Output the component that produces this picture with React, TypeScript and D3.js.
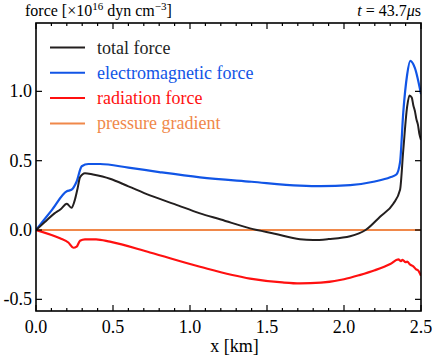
import React from "react";
import * as d3 from "d3";

const totalX = [0, 0.06, 0.12, 0.16, 0.2, 0.23, 0.253, 0.27, 0.286, 0.318, 0.37, 0.48, 0.6, 0.74, 0.9, 1.065, 1.2, 1.39, 1.55, 1.714, 1.8, 1.9, 2.04, 2.14, 2.234, 2.32, 2.364, 2.385, 2.41, 2.425, 2.44, 2.45, 2.46, 2.47, 2.48, 2.49, 2.5];
const totalY = [0, 0.06, 0.12, 0.15, 0.19, 0.16, 0.22, 0.30, 0.38, 0.41, 0.40, 0.37, 0.315, 0.25, 0.187, 0.12, 0.076, 0.012, -0.027, -0.067, -0.072, -0.065, -0.045, 0, 0.096, 0.19, 0.29, 0.577, 0.89, 0.97, 0.955, 0.9, 0.86, 0.8, 0.76, 0.69, 0.65];

const emX = [0, 0.1, 0.2, 0.23, 0.264, 0.297, 0.34, 0.416, 0.6, 0.8, 1.065, 1.4, 1.714, 1.85, 2.04, 2.2, 2.3, 2.34, 2.364, 2.385, 2.41, 2.43, 2.46, 2.5];
const emY = [0, 0.14, 0.28, 0.29, 0.35, 0.46, 0.476, 0.476, 0.45, 0.418, 0.38, 0.348, 0.32, 0.316, 0.324, 0.35, 0.38, 0.40, 0.49, 0.85, 1.12, 1.22, 1.17, 0.98];

const radX = [0, 0.156, 0.21, 0.243, 0.264, 0.286, 0.318, 0.39, 0.48, 0.74, 1.065, 1.39, 1.6, 1.714, 1.85, 2.0, 2.1, 2.2, 2.3, 2.353, 2.37, 2.38, 2.4, 2.41, 2.43, 2.45, 2.47, 2.48, 2.5];
const radY = [0, -0.06, -0.09, -0.128, -0.12, -0.077, -0.067, -0.067, -0.084, -0.162, -0.265, -0.35, -0.378, -0.385, -0.38, -0.355, -0.325, -0.29, -0.245, -0.212, -0.225, -0.215, -0.232, -0.228, -0.25, -0.262, -0.285, -0.29, -0.33];

const presX = [0, 2.5];
const presY = [0, 0];

const xTicks = [0, 0.5, 1.0, 1.5, 2.0, 2.5];
const yTicks = [-0.5, 0, 0.5, 1.0];
const legendLabels = ["total force", "electromagnetic force", "radiation force", "pressure gradient"];
const colors = ["#231f1f", "#1155e6", "#ff1010", "#f0884a"];

const FONT = "'Liberation Serif', serif";

export default function App() {
  const L = 36, R = 421, T = 23, B = 311;
  const x = d3.scaleLinear().domain([0, 2.5]).range([L, R]);
  const y = d3.scaleLinear().domain([-0.584, 1.493]).range([B, T]);
  const line = d3.line<[number, number]>().x(d => x(d[0])).y(d => y(d[1])).curve(d3.curveMonotoneX);
  const series = [
    [totalX, totalY],
    [emX, emY],
    [radX, radY],
    [presX, presY],
  ];
  const widths = [2, 2.2, 2.2, 1.8];
  const minor = d3.range(0, 26).map(k => k / 10);

  return (
    <div style={{ fontFamily: FONT }}>
      <svg width={436} height={358} style={{ position: "absolute", left: 0, top: 0, background: "#fff" }}>
        <style>{`.ser { font-family: 'Liberation Serif', serif !important; }`}</style>
        <defs>
          <clipPath id="plotclip">
            <rect x={L} y={T} width={R - L} height={B - T} />
          </clipPath>
        </defs>
        <g clipPath="url(#plotclip)">
          {[3, 2, 1, 0].map(i => {
            const [xs, ys] = series[i];
            const pts = xs.map((v, k) => [v, ys[k]] as [number, number]);
            return <path key={i} d={line(pts)!} fill="none" stroke={colors[i]} strokeWidth={widths[i]} strokeLinejoin="round" />;
          })}
        </g>
        <rect x={L} y={T} width={R - L} height={B - T} fill="none" stroke="#000" strokeWidth={1.6} />
        {minor.map((v, k) => {
          const len = k % 5 === 0 ? 6 : 3;
          return (
            <g key={"mt" + k}>
              <line x1={x(v)} x2={x(v)} y1={B} y2={B - len} stroke="#000" strokeWidth={1.2} />
              <line x1={x(v)} x2={x(v)} y1={T} y2={T + len} stroke="#000" strokeWidth={1.2} />
            </g>
          );
        })}
        <g className="ser" fontFamily="Liberation Serif">
          {yTicks.map(v => (
            <g key={"yt" + v}>
              <line x1={L} x2={L + 6} y1={y(v)} y2={y(v)} stroke="#000" strokeWidth={1.2} />
              <line x1={R} x2={R - 6} y1={y(v)} y2={y(v)} stroke="#000" strokeWidth={1.2} />
              <text className="ser" x={L - 4} y={y(v) + 6} textAnchor="end" fontSize={18}>{v.toFixed(1)}</text>
            </g>
          ))}
          {xTicks.map(v => (
            <text className="ser" key={"xl" + v} x={x(v)} y={B + 22} textAnchor="middle" fontSize={18}>{v.toFixed(1)}</text>
          ))}
          <text className="ser" x={(L + R) / 2 + 6} y={352} textAnchor="middle" fontSize={18}>x [km]</text>
          <text className="ser" x={25} y={16} fontSize={16}>
            <tspan>force [×10</tspan>
            <tspan fontSize={11} dy={-6}>16</tspan>
            <tspan dy={6}> dyn cm</tspan>
            <tspan fontSize={11} dy={-6}>−3</tspan>
            <tspan dy={6}>]</tspan>
          </text>
          <text className="ser" x={421} y={16} textAnchor="end" fontSize={16}>
            <tspan fontStyle="italic">t</tspan>
            <tspan> = 43.7</tspan>
            <tspan fontStyle="italic">μ</tspan>
            <tspan>s</tspan>
          </text>
          {legendLabels.map((lab, i) => {
            const ly = 47.5 + i * 25.3;
            return (
              <g key={"lg" + i}>
                <line x1={50} x2={85} y1={ly} y2={ly} stroke={colors[i]} strokeWidth={2} />
                <text className="ser" x={97} y={ly + 6} fill={colors[i]} fontSize={18}>{lab}</text>
              </g>
            );
          })}
        </g>
      </svg>
    </div>
  );
}
